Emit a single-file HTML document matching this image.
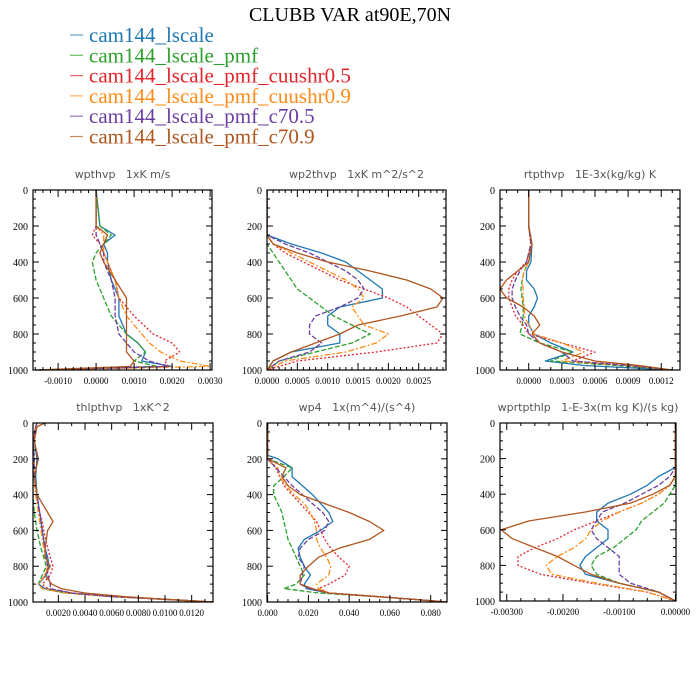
<!DOCTYPE html>
<html><head><meta charset="utf-8">
<style>
html,body{margin:0;padding:0;background:#fff;}
svg{display:block;}
.ser{font-family:"Liberation Serif",serif;}
.san{font-family:"DejaVu Sans","Liberation Sans",sans-serif;white-space:pre;}
</style></head>
<body>
<svg id="chart" width="700" height="700" viewBox="0 0 700 700" xmlns="http://www.w3.org/2000/svg">
<text x="350" y="21" text-anchor="middle" class="ser" font-size="20" fill="#000">CLUBB VAR at90E,70N</text>
<g id="legend"></g>
<g id="panels"></g>
</svg>
<script>
const seriesNames = ["cam144_lscale","cam144_lscale_pmf","cam144_lscale_pmf_cuushr0.5","cam144_lscale_pmf_cuushr0.9","cam144_lscale_pmf_c70.5","cam144_lscale_pmf_c70.9"];
const seriesColors = ["#1f77b4","#2ca02c","#e3242b","#ff8c1a","#6b3fa0","#b0561e"];
const seriesDash = ["","5,2","2,2","6,2,2,2","5,2",""];
const yTicks = [0,200,400,600,800,1000];

const p1Title = "wpthvp   1xK m/s";
const p1Levels = [0,200,250,300,350,400,500,600,700,800,850,900,950,980,1000];
const p1Values = [
 [0,0.0001,0.0005,0.0002,0.0003,0.0003,0.0004,0.0006,0.0006,0.0008,0.0011,0.0013,0.0012,0.0020,-0.0015],
 [0,0.0001,0.0004,0.0002,0.0,-0.0001,0.0,0.0002,0.0004,0.0008,0.0011,0.0013,0.0010,0.0016,-0.0015],
 [0,0,-0.0001,0.0001,0.0002,0.0003,0.0005,0.0006,0.0010,0.0015,0.0020,0.0022,0.0018,0.0019,-0.0015],
 [0,0,0.0002,0.0002,0.0002,0.0003,0.0005,0.0006,0.0008,0.0012,0.0014,0.0017,0.0022,0.0030,-0.0015],
 [0,0,0.0,0.0001,0.0002,0.0002,0.0004,0.0005,0.0005,0.0006,0.0008,0.0010,0.0014,0.0019,-0.0015],
 [0,0,0.0003,0.0002,0.0001,0.0002,0.0005,0.0008,0.0008,0.0008,0.0008,0.0008,0.0010,0.0009,-0.0016]];
const p1XTicks = [-0.001,0,0.001,0.002,0.003];
const p1XLabels = ["-0.0010","0.0000","0.0010","0.0020","0.0030"];

const p2Title = "wp2thvp   1xK m^2/s^2";
const p2Levels = [0,200,250,300,350,400,450,500,550,600,650,700,750,800,850,900,950,1000];
const p2Values = [
 [0,0,0,0.0004,0.0009,0.0013,0.0015,0.0017,0.0019,0.0019,0.0012,0.0010,0.0010,0.0012,0.0012,0.0004,0.0001,0],
 [0,0,-0.0001,0,0.0001,0.0002,0.0003,0.0004,0.0005,0.0007,0.0009,0.0011,0.0014,0.0017,0.0014,0.0008,0.0002,0],
 [0,0,0,0.0001,0.0003,0.0006,0.0009,0.0012,0.0016,0.0020,0.0023,0.0025,0.0027,0.0029,0.0028,0.0018,0.0005,0],
 [0,0,0,0.0001,0.0004,0.0007,0.0010,0.0013,0.0015,0.0016,0.0014,0.0015,0.0016,0.0020,0.0018,0.0013,0.0003,0],
 [0,0,0,0.0003,0.0007,0.0010,0.0013,0.0015,0.0016,0.0015,0.0012,0.0008,0.0007,0.0007,0.0009,0.0007,0.0002,0],
 [0,0,0,0.0001,0.0005,0.0010,0.0017,0.0023,0.0027,0.0029,0.0028,0.0022,0.0015,0.0012,0.0008,0.0004,0.0001,0]];
const p2XTicks = [0,0.0005,0.001,0.0015,0.002,0.0025];
const p2XLabels = ["0.0000","0.0005","0.0010","0.0015","0.0020","0.0025"];

const p3Title = "rtpthvp   1E-3x(kg/kg) K";
const p3Levels = [0,200,300,400,450,500,550,600,650,700,750,800,850,900,950,975,1000];
const p3Values = [
 [0,0,0.00003,0.00002,-0.00002,-0.00002,0.00005,0.00008,0.00005,0.0,0.0,0.00005,0.0002,0.0004,0.00015,0.0005,0.0013],
 [0,0,0.00002,0.0,-0.00004,-0.00006,-0.00007,-0.00006,-0.00005,-0.00005,-0.00006,-0.00008,0.0001,0.0004,0.0002,0.0008,0.0013],
 [0,0,0.00002,-0.00002,-0.0001,-0.00015,-0.00018,-0.00018,-0.00015,-0.00012,-0.00005,0.0,0.0003,0.0006,0.0004,0.0009,0.0013],
 [0,0,0.00002,0.0,-0.00004,-0.00006,-0.00005,-0.00005,-0.00004,-0.00004,0.0,0.00005,0.0003,0.0005,0.0003,0.0009,0.0013],
 [0,0,0.00002,-0.00002,-0.00008,-0.00012,-0.00015,-0.00015,-0.00012,-0.00008,-0.00002,0.0,0.0001,0.0003,0.0004,0.0009,0.0013],
 [0,0,0.00003,0.0,-0.0001,-0.0002,-0.00026,-0.0002,-0.00005,0.00005,0.0001,0.00003,0.0001,0.0003,0.0006,0.0010,0.0013]];
const p3XTicks = [0,0.0003,0.0006,0.0009,0.0012];
const p3XLabels = ["0.0000","0.0003","0.0006","0.0009","0.0012"];

const p4Title = "thlpthvp   1xK^2";
const p4Levels = [0,20,100,200,300,400,500,550,600,700,750,800,850,900,925,950,970,985,1000];
const p4Values = [
 [0.0004,0.0003,0.0002,0.0004,0.0003,0.0004,0.0006,0.0007,0.0008,0.0010,0.0012,0.0013,0.0011,0.0005,0.0010,0.0030,0.0060,0.0100,0.0136],
 [0.0004,0.0003,0.0001,0.0002,0.0001,0.0001,0.0002,0.0003,0.0004,0.0007,0.0009,0.0011,0.0008,0.0005,0.0008,0.0025,0.0060,0.0100,0.0136],
 [0.0004,0.0003,0.0001,0.0002,0.0002,0.0003,0.0006,0.0008,0.0009,0.0012,0.0014,0.0016,0.0014,0.0008,0.0012,0.0030,0.0060,0.0100,0.0136],
 [0.0004,0.0003,0.0001,0.0002,0.0002,0.0003,0.0005,0.0006,0.0007,0.0009,0.0011,0.0012,0.0010,0.0005,0.0008,0.0025,0.0060,0.0100,0.0136],
 [0.0004,0.0003,0.0001,0.0002,0.0002,0.0004,0.0006,0.0007,0.0008,0.0010,0.0011,0.0012,0.0012,0.0014,0.0014,0.0030,0.0060,0.0100,0.0136],
 [0.0010,0.0004,0.0002,0.0005,0.0002,0.0004,0.0012,0.0016,0.0012,0.0010,0.0010,0.0014,0.0010,0.0015,0.0022,0.0040,0.0070,0.0100,0.0136]];
const p4XTicks = [0.002,0.004,0.006,0.008,0.010,0.012];
const p4XLabels = ["0.0020","0.0040","0.0060","0.0080","0.0100","0.0120"];

const p5Title = "wp4   1x(m^4)/(s^4)";
const p5Levels = [0,180,200,250,300,350,400,450,500,550,600,650,700,750,800,850,900,925,950,975,1000];
const p5Values = [
 [0,0,0.005,0.012,0.012,0.017,0.022,0.026,0.030,0.032,0.026,0.018,0.015,0.016,0.018,0.021,0.018,0.019,0.030,0.060,0.088],
 [0,0,0,0.012,0.008,0.003,0.003,0.005,0.007,0.008,0.009,0.010,0.012,0.014,0.016,0.018,0.014,0.008,0.025,0.060,0.088],
 [0,0,0,0.004,0.006,0.008,0.012,0.016,0.020,0.024,0.026,0.028,0.031,0.035,0.040,0.038,0.030,0.025,0.030,0.060,0.088],
 [0,0,0,0.005,0.006,0.009,0.013,0.018,0.021,0.023,0.024,0.024,0.026,0.029,0.031,0.030,0.024,0.025,0.030,0.060,0.088],
 [0,0,0,0.004,0.008,0.012,0.017,0.022,0.027,0.030,0.028,0.020,0.016,0.015,0.018,0.017,0.016,0.020,0.030,0.060,0.088],
 [0,0,0,0.009,0.007,0.010,0.016,0.028,0.040,0.050,0.057,0.050,0.035,0.025,0.020,0.016,0.016,0.022,0.030,0.060,0.088]];
const p5XTicks = [0,0.02,0.04,0.06,0.08];
const p5XLabels = ["0.000","0.020","0.040","0.060","0.080"];

const p6Title = "wprtpthlp   1-E-3x(m kg K)/(s kg)";
const p6Levels = [0,200,250,300,350,400,450,500,550,600,650,700,750,800,850,900,950,1000];
const p6Values = [
 [0,0,0,-0.0003,-0.0005,-0.0008,-0.0012,-0.0014,-0.0014,-0.0012,-0.0012,-0.0014,-0.0016,-0.0017,-0.0016,-0.0010,-0.0003,0],
 [0,0,0,0,0,-0.0001,-0.0002,-0.0004,-0.0006,-0.0007,-0.0009,-0.0011,-0.0014,-0.0015,-0.0014,-0.0010,-0.0003,0],
 [0,0,0,0,-0.0001,-0.0003,-0.0006,-0.0010,-0.0014,-0.0018,-0.0021,-0.0025,-0.0028,-0.0028,-0.0024,-0.0015,-0.0005,0],
 [0,0,0,0,-0.0001,-0.0003,-0.0006,-0.0010,-0.0013,-0.0015,-0.0016,-0.0018,-0.0021,-0.0023,-0.0022,-0.0014,-0.0005,0],
 [0,0,0,-0.0001,-0.0003,-0.0006,-0.0009,-0.0013,-0.0014,-0.0015,-0.0014,-0.0012,-0.0010,-0.0010,-0.0010,-0.0008,-0.0003,0],
 [0,0,0,0,-0.0001,-0.0004,-0.0008,-0.0016,-0.0026,-0.0031,-0.0029,-0.0025,-0.0021,-0.0018,-0.0015,-0.0010,-0.0003,0]];
const p6XTicks = [-0.003,-0.002,-0.001,0];
const p6XLabels = ["-0.00300","-0.00200","-0.00100","0.00000"];

const NS = "http://www.w3.org/2000/svg";
function mk(tag, attrs, parent){const e=document.createElementNS(NS,tag);for(const k in attrs)e.setAttribute(k,attrs[k]);parent.appendChild(e);return e;}

const lg = document.getElementById('legend');
seriesNames.forEach((n,i)=>{
  const y = 35 + i*20.3;
  const l = mk('line',{x1:70,x2:83,y1:y,y2:y,stroke:seriesColors[i],'stroke-width':1.2,opacity:0.7},lg);
  
  
  const t = mk('text',{x:89,y:y+7,'font-size':21,fill:seriesColors[i],class:'ser'},lg);
  t.textContent = n;
  
  
});

const panels = [
 {title:p1Title, levels:p1Levels, values:p1Values, xt:p1XTicks, xl:p1XLabels, x0:33,x1:212,y0:190,y1:370, vmin:-0.00166, vmax:0.00305, minorN:5},
 {title:p2Title, levels:p2Levels, values:p2Values, xt:p2XTicks, xl:p2XLabels, x0:267,x1:446,y0:190,y1:370, vmin:0, vmax:0.00295, minorN:5},
 {title:p3Title, levels:p3Levels, values:p3Values, xt:p3XTicks, xl:p3XLabels, x0:500,x1:680,y0:190,y1:370, vmin:-0.00026, vmax:0.00137, minorN:3},
 {title:p4Title, levels:p4Levels, values:p4Values, xt:p4XTicks, xl:p4XLabels, x0:33,x1:213,y0:423,y1:602, vmin:0.0001, vmax:0.0136, minorN:2},
 {title:p5Title, levels:p5Levels, values:p5Values, xt:p5XTicks, xl:p5XLabels, x0:267,x1:447,y0:423,y1:602, vmin:-0.0003, vmax:0.088, minorN:4},
 {title:p6Title, levels:p6Levels, values:p6Values, xt:p6XTicks, xl:p6XLabels, x0:500,x1:676,y0:423,y1:601, vmin:-0.00312, vmax:0.00001, minorN:4}
];
const pg = document.getElementById('panels');
panels.forEach((p,pi)=>{
  const g = mk('g',{},pg);
  
  
  const xs = v => p.x0 + (v-p.vmin)/(p.vmax-p.vmin)*(p.x1-p.x0);
  const ys = v => p.y0 + v/1000*(p.y1-p.y0);
  const t = mk('text',{x:(p.x0+p.x1)/2,y:p.y0-12,'text-anchor':'middle','font-size':11,fill:'#555',class:'san','xml:space':'preserve'},g);
  t.textContent = p.title;
  
  
  const cid = 'clip'+pi;
  const cp = mk('clipPath',{id:cid},g);
  mk('rect',{x:p.x0,y:p.y0-1,width:p.x1-p.x0,height:p.y1-p.y0+2},cp);
  const lines = mk('g',{'clip-path':'url(#'+cid+')'},g);
  p.values.forEach((vals,si)=>{
    let d='';
    vals.forEach((v,k)=>{d += (k?'L':'M')+xs(v).toFixed(1)+','+ys(p.levels[k]).toFixed(1);});
    const a = {d:d,fill:'none',stroke:seriesColors[si],'stroke-width':1.3,'stroke-linejoin':'round'};
    if(seriesDash[si]) a['stroke-dasharray']=seriesDash[si];
    const pth = mk('path',a,lines);
    
    
  });
  const fr = mk('rect',{x:p.x0,y:p.y0,width:p.x1-p.x0,height:p.y1-p.y0,fill:'none',stroke:'#000','stroke-width':1.2},g);
  
  
  for(let v=0; v<=1000; v+=50){
    const y = ys(v), L = (v%200===0)?6:3;
    mk('line',{x1:p.x0,x2:p.x0+L,y1:y,y2:y,stroke:'#000','stroke-width':1},g);
    mk('line',{x1:p.x1,x2:p.x1-L,y1:y,y2:y,stroke:'#000','stroke-width':1},g);
  }
  yTicks.forEach(v=>{
    const tl = mk('text',{x:p.x0-5,y:ys(v)+4,'text-anchor':'end','font-size':10,class:'ser'},g);
    tl.textContent = v;
    
    
  });
  const step = p.xt[1]-p.xt[0];
  const ms = step/p.minorN;
  for(let k=-40;k<=40*p.minorN;k++){
    const v = p.xt[0]+k*ms;
    if(v<p.vmin-1e-12||v>p.vmax+1e-12) continue;
    const x = xs(v), major = (Math.abs(Math.round(k/p.minorN)*p.minorN-k)<1e-9), L = major?7:3;
    mk('line',{x1:x,x2:x,y1:p.y1,y2:p.y1-L,stroke:'#000','stroke-width':1},g);
    mk('line',{x1:x,x2:x,y1:p.y0,y2:p.y0+L,stroke:'#000','stroke-width':1},g);
  }
  p.xt.forEach((v,k)=>{
    const tl = mk('text',{x:xs(v),y:p.y1+14,'text-anchor':'middle','font-size':9,class:'ser'},g);
    tl.textContent = p.xl[k];
    
    
  });
});
</script>
</body></html>
